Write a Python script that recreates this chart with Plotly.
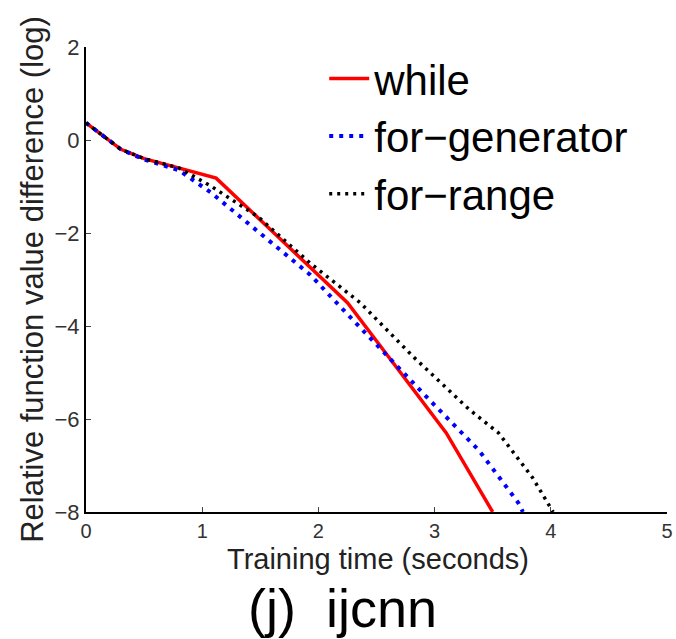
import plotly.graph_objects as go

while_x = [0, 0.3, 0.5, 0.8, 1.12, 1.5, 2.0, 2.25, 2.6, 3.1, 3.5]
while_y = [0.37, -0.2, -0.4, -0.6, -0.82, -1.72, -2.9, -3.5, -4.65, -6.3, -8.0]

gen_x = [0, 0.3, 0.5, 0.8, 1.08, 1.48, 1.93, 2.27, 2.65, 2.96, 3.38, 3.72, 3.76]
gen_y = [0.37, -0.2, -0.42, -0.65, -1.14, -1.98, -2.9, -3.8, -4.8, -5.6, -6.67, -7.8, -8.0]

rng_x = [0, 0.3, 0.5, 0.8, 1.08, 1.48, 1.93, 2.36, 2.82, 3.3, 3.55, 3.84, 4.02]
rng_y = [0.37, -0.2, -0.4, -0.6, -1.0, -1.65, -2.65, -3.5, -4.67, -5.8, -6.3, -7.25, -8.0]

x_ticks = [0, 1, 2, 3, 4, 5]
y_ticks = [-8, -6, -4, -2, 0, 2]
y_tick_text = ["\u22128", "\u22126", "\u22124", "\u22122", "0", "2"]

fig = go.Figure()
fig.add_trace(go.Scatter(x=while_x, y=while_y, mode="lines", name="while",
                         legendgroup="a",
                         line=dict(color="#ff0000", width=3.5)))
fig.add_trace(go.Scatter(x=gen_x, y=gen_y, mode="lines", name="for\u2212generator",
                         legendgroup="b",
                         line=dict(color="#0000ff", width=4, dash="4px,6px")))
fig.add_trace(go.Scatter(x=rng_x, y=rng_y, mode="lines", name="for\u2212range",
                         legendgroup="c",
                         line=dict(color="#000000", width=3.5, dash="3px,5px")))

fig.update_layout(
    width=676, height=639,
    margin=dict(l=86, r=3, t=47, b=127),
    paper_bgcolor="white", plot_bgcolor="white",
    font=dict(family="Liberation Sans, Arial, sans-serif", color="#000"),
    showlegend=True,
    legend=dict(x=0.41, y=1.005, xanchor="left", yanchor="top",
                bgcolor="rgba(0,0,0,0)", font=dict(size=42),
                traceorder="grouped", tracegroupgap=0, itemwidth=40),
    xaxis=dict(range=[0, 5], tickvals=x_ticks, ticks="inside", ticklen=5,
               showline=True, linecolor="black", linewidth=2, showgrid=False,
               zeroline=False, tickfont=dict(size=20, color="#333"),
               ticklabeloverflow="allow"),
    yaxis=dict(range=[-8, 2], tickvals=y_ticks, ticktext=y_tick_text,
               ticks="inside", ticklen=5,
               showline=True, linecolor="black", linewidth=2, showgrid=False,
               zeroline=False, tickfont=dict(size=22, color="#333"),
               ticklabeloverflow="allow",
               title=dict(text="Relative function value difference (log)",
                          font=dict(size=31, color="#222"), standoff=2)),
    annotations=[
        dict(text="Training time (seconds)", xref="paper", yref="paper",
             x=0.503, y=-0.1, xanchor="center", yanchor="middle",
             showarrow=False, font=dict(size=29, color="#222")),
        dict(text="(j)\u00a0 ijcnn", xref="paper", yref="paper",
             x=0.441, y=-0.206, xanchor="center", yanchor="middle",
             showarrow=False, font=dict(size=54, color="#000")),
    ],
)

fig.write_html("out.html")
